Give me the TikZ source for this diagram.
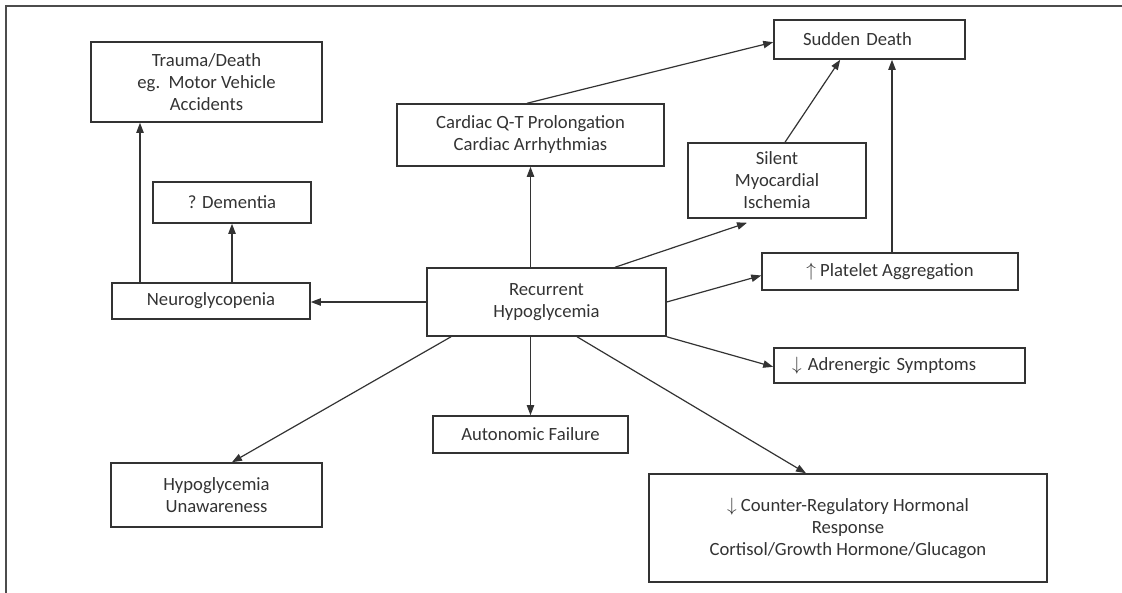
\documentclass[tikz,border=0pt]{standalone}
\usepackage{fontspec}
\setmainfont{Carlito}
\usetikzlibrary{arrows.meta}

\definecolor{inkgray}{HTML}{333333}

\tikzset{
    box/.style={draw=inkgray, line width=1.15pt, align=center, text=inkgray,
        inner sep=0pt, font=\fontsize{14}{16.5}\selectfont},
    arr/.style={draw=inkgray, line width=0.9pt, -{Triangle[length=7.5pt, width=5.5pt]}}
}

\begin{document}
\begin{tikzpicture}[x=0.75pt, y=-0.75pt]
    \useasboundingbox (0,0) rectangle (1122,593);
    \draw [line width=1.3pt, color=black!70] (1122,6) -- (6,6) -- (6,593); % the frame

    \node [box, minimum width=173.25pt, minimum height=60pt] (trauma) at (206.5,82) {Trauma/Death\\eg.\ \ Motor Vehicle\\Accidents};
    \node [box, minimum width=118.5pt, minimum height=30.75pt] (dementia) at (232,202.5) {? Dementia};
    \node [box, minimum width=148.5pt, minimum height=27pt] (neuro) at (211,301) {Neuroglycopenia};
    \node [box, minimum width=179.25pt, minimum height=51pt] (recur) at (546.5,302) {Recurrent\\Hypoglycemia};
    \node [box, minimum width=146.25pt, minimum height=27.75pt] (auton) at (530.5,434.5) {Autonomic Failure};
    \node [box, minimum width=200.25pt, minimum height=46.5pt] (cardiac) at (530.5,135) {Cardiac Q-T Prolongation\\Cardiac Arrhythmias};
    \node [box, minimum width=133.5pt, minimum height=56.25pt] (silent) at (777,180.5) {Silent\\Myocardial\\Ischemia};
    \node [box, minimum width=143.25pt, minimum height=29.25pt, align=left, text width=99.75pt, inner xsep=21.75pt] (sudden) at (869.5,39.5) {Sudden Death};
    \node [box, minimum width=192pt, minimum height=27.75pt] (platelet) at (890,271.5) {$\uparrow$ Platelet Aggregation};
    \node [box, minimum width=188.25pt, minimum height=26.25pt, align=left, text width=161.25pt, inner xsep=13.5pt] (adren) at (899.5,365.5) {$\downarrow$ Adrenergic Symptoms};
    \node [box, minimum width=298.5pt, minimum height=81pt] (counter) at (848,528) {$\downarrow$ Counter-Regulatory Hormonal\\Response\\Cortisol/Growth Hormone/Glucagon};
    \node [box, minimum width=158.25pt, minimum height=48pt] (unaware) at (216.5,495) {Hypoglycemia\\Unawareness};

    % connectors out of the central box
    \draw [arr] (recur.west) -- (recur.west -| neuro.east);
    \draw [arr] (recur.north -| cardiac.south) -- (cardiac.south);
    \draw [arr] (recur.south -| auton.north) -- (auton.north);
    \draw [arr] ([xshift=51.4pt]recur.north) -- ([xshift=-22.5pt, yshift=-3pt]silent.south);
    \draw [arr] (recur.east) -- ([yshift=-3pt]platelet.west);
    \draw [arr] (recur.south east) -- ([yshift=-1pt]adren.west);
    \draw [arr] ([xshift=22.9pt]recur.south) -- ([xshift=-31.5pt]counter.north);
    \draw [arr] ([xshift=-71.6pt]recur.south) -- ([xshift=11.6pt]unaware.north);

    % connectors on the left
    \draw [arr] ([xshift=-53.25pt]neuro.north) -- ([xshift=-53.25pt]neuro.north |- trauma.south);
    \draw [arr] (neuro.north -| dementia.south) -- (dementia.south);

    % connectors to sudden death
    \draw [arr] ([xshift=-2.6pt]cardiac.north) -- ([yshift=-2pt]sudden.west);
    \draw [arr] ([xshift=6pt]silent.north) -- ([xshift=-22pt]sudden.south);
    \draw [arr] ([xshift=1.5pt]platelet.north) -- ([xshift=1.5pt]platelet.north |- sudden.south);
\end{tikzpicture}
\end{document}
